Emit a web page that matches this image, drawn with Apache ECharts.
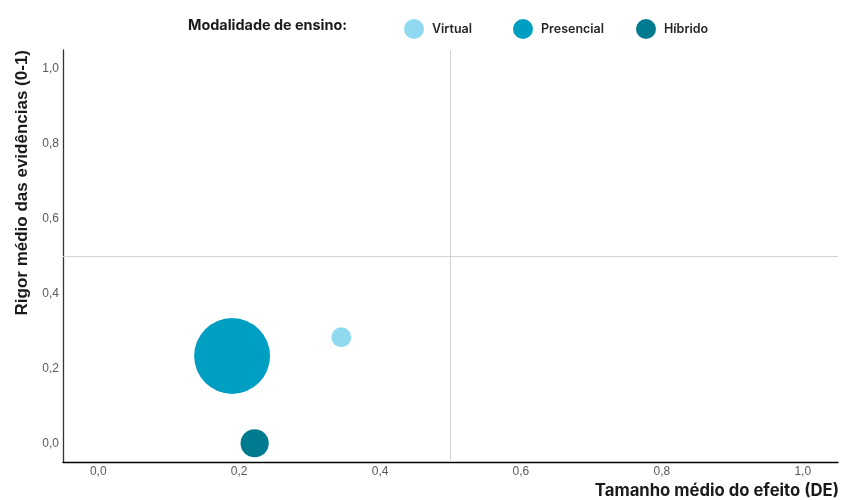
<!DOCTYPE html>
<html>
<head>
<meta charset="utf-8">
<script src="https://cdn.jsdelivr.net/npm/echarts@6/dist/echarts.min.js"></script>
<style>
    html, body { margin: 0; padding: 0; background: #fff; }
    #chart { width: 842px; height: 500px; }
</style>
</head>
<body>
<div id="chart"></div>
<script>
// modalidades e valores
const categories = ['Virtual', 'Presencial', 'Híbrido'];
const efeito = [0.345, 0.19, 0.222];     // tamanho médio do efeito (DE)
const rigor = [0.283, 0.233, 0.0];       // rigor médio (0-1)
const estudos = [2, 29, 4];              // peso da bolha
const cores = ['#8fd9f1', '#009fc2', '#007a8f'];
const xTicks = [0, 0.2, 0.4, 0.6, 0.8, 1.0];
const yTicks = [0, 0.2, 0.4, 0.6, 0.8, 1.0];

const fmt = v => v.toFixed(1).replace('.', ',');
const legendLeft = [399, 508, 631];

let chart = echarts.init(document.getElementById('chart'));

chart.setOption({
    animation: false,
    title: {
        text: 'Modalidade de ensino:',
        left: 183,
        top: 14,
        textStyle: { fontFamily: 'Inter', fontSize: 14.4, fontWeight: 'bold', color: '#1a1a1a' }
    },
    legend: categories.map((c, i) => ({
        data: [c],
        left: legendLeft[i],
        top: 14,
        icon: 'circle',
        itemWidth: 20,
        itemHeight: 20,
        itemGap: 0,
        textStyle: { fontFamily: 'Inter', fontSize: 12.5, fontWeight: 600, color: '#262626', padding: [0, 0, 0, 3] }
    })),
    grid: { left: 63, right: 4, top: 50, bottom: 38, outerBoundsMode: 'none', containLabel: false },
    xAxis: {
        type: 'value',
        min: -0.05,
        max: 1.05,
        axisLine: { onZero: false, lineStyle: { color: '#000', width: 1.3 } },
        axisTick: { show: false },
        splitLine: { show: false },
        axisLabel: {
            customValues: xTicks,
            formatter: fmt,
            margin: 4,
            fontFamily: 'Liberation Sans', fontSize: 12, color: '#595959'
        }
    },
    yAxis: {
        type: 'value',
        min: -0.05,
        max: 1.05,
        axisLine: { show: true, onZero: false, lineStyle: { color: '#333', width: 1.3 } },
        axisTick: { show: false },
        splitLine: { show: false },
        axisLabel: {
            customValues: yTicks,
            formatter: fmt,
            margin: 4,
            fontFamily: 'Liberation Sans', fontSize: 12, color: '#595959'
        }
    },
    graphic: [{
        type: 'text',
        right: 3,
        top: 482,
        style: {
            text: 'Tamanho médio do efeito (DE)',
            fontFamily: 'Inter', fontSize: 16.7, fontWeight: 'bold', fill: '#1a1a1a'
        }
    }, {
        type: 'text',
        left: 14,
        top: 50,
        rotation: Math.PI / 2,
        style: {
            text: 'Rigor médio das evidências (0-1)',
            fontFamily: 'Liberation Sans', fontSize: 17, fontWeight: 'bold', fill: '#1a1a1a',
            align: 'right', verticalAlign: 'top'
        }
    }],
    series: categories.map((c, i) => ({
        name: c,
        type: 'scatter',
        data: [[efeito[i], rigor[i], estudos[i]]],
        symbolSize: d => 14.1 * Math.sqrt(d[2]),
        itemStyle: { color: cores[i], opacity: 1 },
        markLine: i === 0 ? {
            silent: true,
            symbol: 'none',
            label: { show: false },
            lineStyle: { color: '#d4d4d4', width: 1, type: 'solid' },
            data: [{ xAxis: 0.5 }, { yAxis: 0.5 }]
        } : undefined
    }))
});
</script>
</body>
</html>
